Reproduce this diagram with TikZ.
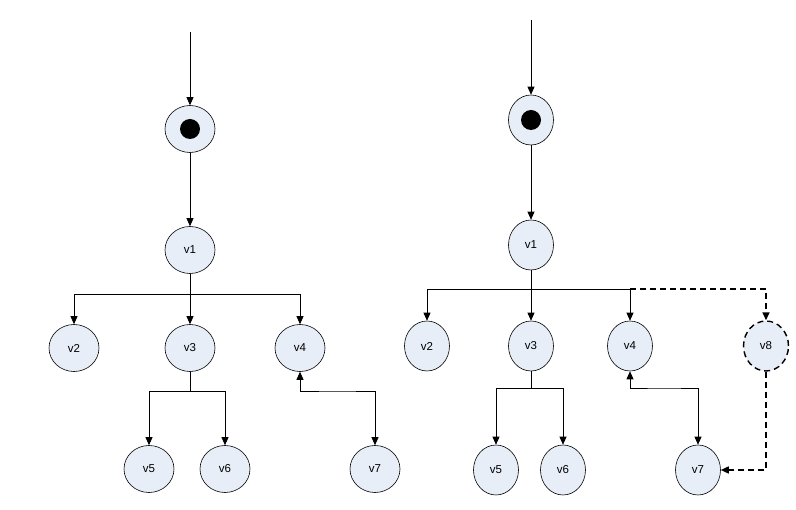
\documentclass[tikz,border=0pt]{standalone}
\usepackage{fontspec}
\setmainfont{Liberation Sans}
\usetikzlibrary{arrows.meta,shapes.geometric}

\definecolor{nodefill}{RGB}{232,238,247}

\tikzset{
  vert/.style={ellipse,draw,line width=0.6pt,fill=nodefill,inner sep=0pt,
    minimum width=50pt,minimum height=47pt,font=\fontsize{11.5}{13}\selectfont},
  rvert/.style={vert,minimum width=45pt,minimum height=50pt},
  dot/.style={circle,fill=black,inner sep=0pt,minimum size=20pt},
  arr/.style={line width=0.8pt,-{Triangle[length=8pt,width=7pt]}},
  arrs/.style={line width=0.8pt,{Triangle[length=8pt,width=7pt]}-{Triangle[length=8pt,width=7pt]}},
  darr/.style={arr,line width=1.6pt,dash pattern=on 6pt off 4pt,
    -{Triangle[length=8pt,width=7pt]}}
}

\begin{document}
\begin{tikzpicture}[x=1pt,y=-1pt]
\useasboundingbox (0,0) rectangle (796,510);

% left tree
\coordinate (ltop) at (190,32);
\node[vert] (lst) at (190,129) {};
\node[dot] (ldot) at (190,129) {};
\node[vert] (lv1) at (190,250) {v1};
\node[vert] (lv2) at (74,348) {v2};
\node[vert] (lv3) at (190,348) {v3};
\node[vert] (lv4) at (300,348) {v4};
\node[vert] (lv5) at (149,469) {v5};
\node[vert] (lv6) at (225,469) {v6};
\node[vert] (lv7) at (375,469) {v7};
\coordinate (lbus) at (190,294);
\coordinate (lbus3) at (190,391);
\coordinate (lbus4) at (337,391);

\draw[arr] (ltop) -- (lst);
\draw[arr] (lst) -- (lv1);
\draw[arr] (lv1) -- (lv3);
\draw[arr] (lbus) -| (lv2);
\draw[arr] (lbus) -| (lv4);
\draw[arr] (lv3.south) |- (lbus3) -| (lv5);
\draw[arr] (lbus3) -| (lv6);
\draw[arrs] (lv4) |- (lbus4) -| (lv7);

% right tree
\coordinate (rtop) at (531,20);
\node[rvert] (rst) at (531,120) {};
\node[dot] (rdot) at (531,120) {};
\node[rvert] (rv1) at (531,245) {v1};
\node[rvert] (rv2) at (427,346) {v2};
\node[rvert] (rv3) at (531,346) {v3};
\node[rvert] (rv4) at (630,346) {v4};
\node[rvert,dashed,line width=1.4pt,dash pattern=on 6pt off 4pt] (rv8) at (766,346) {v8};
\node[rvert] (rv5) at (496,470) {v5};
\node[rvert] (rv6) at (563,470) {v6};
\node[rvert] (rv7) at (698,470) {v7};
\coordinate (rbus) at (531,289);
\coordinate (rbus3) at (531,388);
\coordinate (rbus4) at (664,388);

\draw[arr] (rtop) -- (rst);
\draw[arr] (rst) -- (rv1);
\draw[arr] (rv1) -- (rv3);
\draw[arr] (rbus) -| (rv2);
\draw[arr] (rbus) -| (rv4);
\draw[darr] (rv4 |- rbus) -| (rv8);
\draw[arr] (rv3.south) |- (rbus3) -| (rv5);
\draw[arr] (rbus3) -| (rv6);
\draw[arrs] (rv4) |- (rbus4) -| (rv7);
\draw[darr] (rv8) |- (rv7);
\end{tikzpicture}
\end{document}
